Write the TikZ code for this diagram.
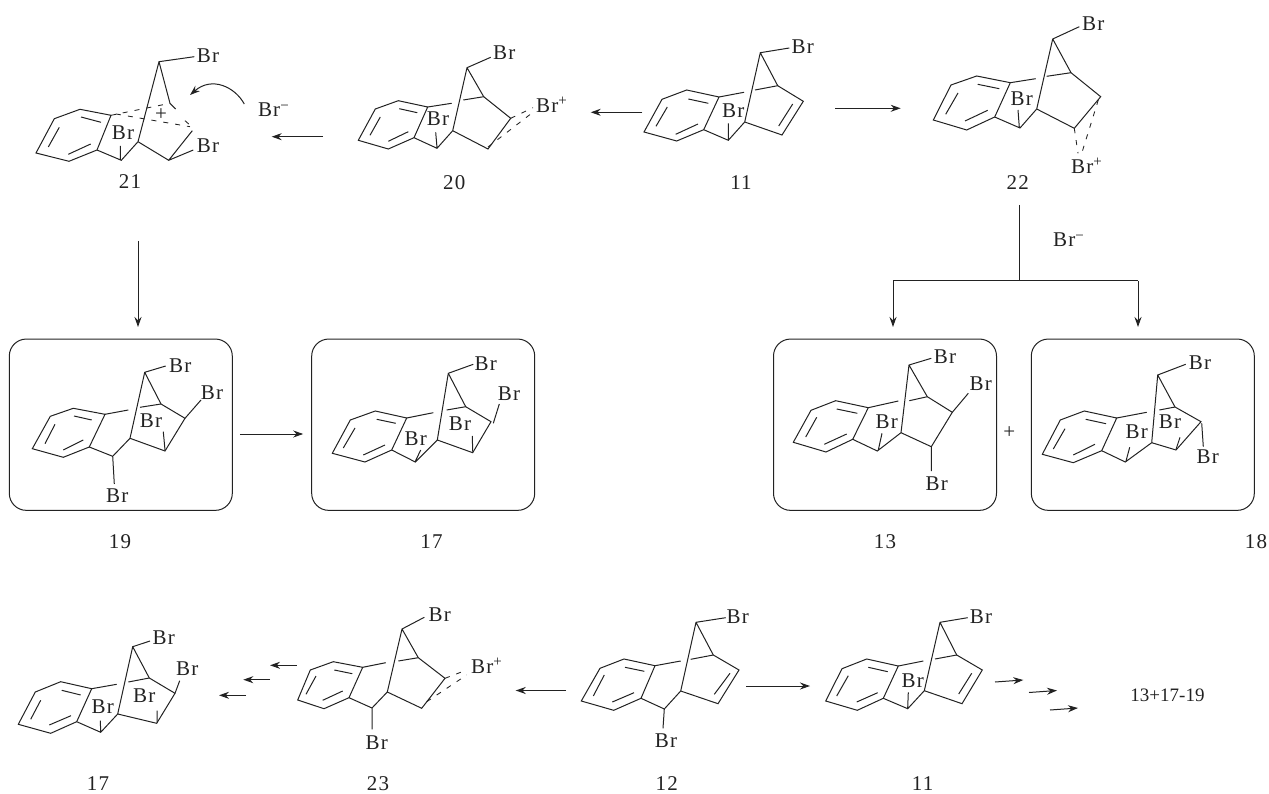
\documentclass[tikz,border=0pt]{standalone}
\usepackage{fontspec}
\setmainfont[LetterSpace=6]{Liberation Serif}
\newfontfamily\prodfont{Liberation Serif}
\usetikzlibrary{arrows.meta}
\definecolor{ink}{HTML}{222222}
\tikzset{
 bond/.style={draw=ink,line width=1pt,line join=miter},
 dbond/.style={draw=ink,line width=0.85pt,dash pattern=on 5pt off 7pt},
 rxn/.style={draw=ink,line width=1pt,-{Stealth[length=10pt,width=7pt]}},
 plainline/.style={draw=ink,line width=1pt},
 txt/.style={inner sep=0pt,outer sep=0pt,text=ink,anchor=base,font=\fontsize{21}{24}\selectfont,yshift=-7pt},
 txw/.style={inner sep=0pt,outer sep=0pt,text=ink,anchor=base west,font=\fontsize{21}{24}\selectfont,yshift=-7pt},
 boxed/.style={draw=ink,line width=1pt,rounded corners=17pt,minimum width=223pt,minimum height=171.3pt,inner sep=0pt}
}
\newcommand{\supp}{\raisebox{7pt}{\fontsize{15}{15}\selectfont +}}
\newcommand{\supm}{\raisebox{6pt}{\fontsize{15}{15}\selectfont −}}
\begin{document}
\begin{tikzpicture}[x=1pt,y=-1pt]
\path[use as bounding box] (0,0) rectangle (1269,794);
% ---- 21
\draw[bond] (36,153)--(54.3,118.7)--(80,109.3)--(111,115.3)--(97,150)--(69,161.3)--cycle;
\draw[bond] (48.3,147)--(59.3,127.3) (81,117)--(101,122.3) (68.3,154.3)--(90.7,144);
\draw[bond] (97,150)--(121.3,160.3)--(138,141.7) (120.3,159.3)--(120.3,146);
\draw[bond] (138,141.7)--(159,61.7)--(194.3,56.7) (159,61.7)--(170,103.3)--(175.7,109);
\draw[bond] (138,141.7)--(168.7,160.3)--(192.3,130.7) (168.7,160.3)--(193.3,150);
\draw[dbond] (111,115.3)--(170,103.3) (116,114)--(190,126.7) (185,120.7)--(191,126);
\node[txt] (b21a) at (208,56) {Br};
\node[txt] (b21b) at (123,133) {Br};
\node[txt] (b21c) at (208,146) {Br};
\node[txt] (plus21) at (161,114) {+};
\node[txt] (n21) at (130,182) {21};
\node[txw] (brm1) at (258,110) {Br\supm};
\coordinate (c1a) at (244.3,104); \coordinate (c1b) at (190,95);
\draw[rxn] (c1a) .. controls (235,87) and (212,76) .. (c1b);
% ---- 20
\draw[bond] (358.3,140.3)--(375.3,109)--(398.3,100.7)--(427.7,107)--(414,137.7)--(388.3,149)--cycle;
\draw[bond] (370,135.3)--(380.3,117) (399.3,108.7)--(417.3,112.7) (388.3,141.3)--(408.3,131.7);
\draw[bond] (414,137.7)--(437,148.3)--(452.7,130.7) (437,147.7)--(435.7,132.3);
\draw[bond] (427.7,107)--(451.7,103.3) (463.3,100)--(483.7,96.7);
\draw[bond] (452.7,130.7)--(467,67.7)--(490.7,57.3) (467,67.7)--(483.7,96.7)--(510.7,118.3)--(488,149)--(452.7,130.7);
\draw[dbond] (510.7,118.3)--(533,107.7) (488,147)--(532,113);
\node[txt] (b20a) at (504.3,52.7) {Br};
\node[txw] (b20b) at (536,106) {Br\supp};
\node[txt] (b20c) at (438,119) {Br};
\node[txt] (n20) at (454.3,182.3) {20};
% ---- 11 top
\draw[bond] (644,132)--(662,99.3)--(686.7,90)--(719,97)--(703.7,129.7)--(676.7,141)--cycle;
\draw[bond] (656,126.3)--(667.3,107) (688.3,99)--(708.3,103.3) (675.7,134.3)--(698,124);
\draw[bond] (703.7,129.7)--(728.3,140.3)--(744.7,122) (728.3,139.3)--(728.3,123.3);
\draw[bond] (719,97)--(744,92.3) (755,90)--(777.7,85.7);
\draw[bond] (744.7,122)--(760.3,52.7)--(789.3,48) (760.3,52.7)--(777.7,85.7)--(803.3,101.3)--(782,135)--(744.7,122) (778.7,126)--(792.7,104);
\node[txt] (b11a) at (802.7,47) {Br};
\node[txt] (b11b) at (733.3,111) {Br};
\node[txt] (n11) at (741,182.3) {11};
% ---- 22
\draw[bond] (933.3,120)--(951,85)--(976.7,76)--(1010.3,82.7)--(994.7,117)--(966.7,130)--cycle;
\draw[bond] (945.7,114.3)--(958,93) (977.7,84.3)--(999.3,88.7) (965,121)--(987.7,110.3);
\draw[bond] (994.7,117)--(1020,128)--(1036.7,109) (1019.3,127.3)--(1018,110);
\draw[bond] (1010.3,82.7)--(1035.7,78.7) (1046.7,76.3)--(1071,72.7);
\draw[bond] (1036.7,109)--(1052.7,39)--(1079.3,26.7) (1052.7,39)--(1071,72.7)--(1100.7,96.7)--(1074.3,128.3)--(1036.7,109);
\draw[dbond] (1074.3,128.3)--(1078,153.3) (1098.3,100)--(1081.7,153.3);
\node[txt] (b22a) at (1093.3,23.3) {Br};
\node[txt] (b22b) at (1021.7,98.7) {Br};
\node[txw] (b22c) at (1071,166.7) {Br\supp};
\node[txt] (n22) at (1017.7,182.3) {22};
% ---- top arrows
\coordinate (a1) at (323,136.7); \coordinate (a2) at (271.7,136.7);
\draw[rxn] (a1)--(a2);
\coordinate (a3) at (642.3,112.3); \coordinate (a4) at (590.7,112.3);
\draw[rxn] (a3)--(a4);
\coordinate (a5) at (835,108.3); \coordinate (a6) at (900.7,108.3);
\draw[rxn] (a5)--(a6);
\coordinate (a7) at (138,241); \coordinate (a8) at (138,327);
\draw[rxn] (a7)--(a8);
% ---- branch
\coordinate (t0) at (1019,205); \coordinate (t1) at (1019,281);
\coordinate (t2) at (893,281); \coordinate (t3) at (1138,281);
\coordinate (t4) at (893,327); \coordinate (t5) at (1138,327);
\draw[plainline] (t0)--(t1) (t2)--(t3);
\draw[rxn] (t2)--(t4);
\draw[rxn] (t3)--(t5);
\node[txw] (brm2) at (1053,240) {Br\supm};
% ---- boxes
\node[boxed] (box19) at (120.8,424.7) {};
\node[boxed] (box17) at (423.2,424.7) {};
\node[boxed] (box13) at (885,424.7) {};
\node[boxed] (box18) at (1142.8,424.7) {};
\draw[rxn,shorten <=7pt,shorten >=8pt] (box19.east |- 0,434)--(box17.west |- 0,434);
% ---- 19
\draw[bond] (32.3,448.7)--(50.3,416.3)--(73.3,408.3)--(105,414.3)--(89.3,447)--(63.3,457.3)--cycle;
\draw[bond] (45,443.7)--(55,424.3) (74,416)--(91.7,420) (63.3,450)--(83.3,440);
\draw[bond] (89.3,447)--(112.7,456.3)--(130,438.3) (112.7,456.3)--(114.3,484);
\draw[bond] (105,414.3)--(128.3,410) (140,407.3)--(161,404);
\draw[bond] (130,438.3)--(144.7,372.3)--(165.7,366) (144.7,372.3)--(161,404)--(185,418.3)--(165,451)--(130,438.3);
\draw[bond] (165,450)--(163.3,431.7) (185,418.3)--(201,400);
\node[txt] (b19a) at (180.3,365) {Br};
\node[txt] (b19b) at (212,392.7) {Br};
\node[txt] (b19c) at (151,420) {Br};
\node[txt] (b19d) at (117.3,495) {Br};
\node[txt] (n19) at (120,541) {19};
% ---- 17 boxed
\draw[bond] (332.3,453.3)--(350.3,420)--(375.3,411)--(406.7,418)--(391.7,450)--(365,462)--cycle;
\draw[bond] (343.3,448)--(355,428) (376.7,419.3)--(395.7,423.3) (363.3,455)--(385,445);
\draw[bond] (391.7,450)--(415.3,462)--(437.3,440) (415.3,461.3)--(420.7,450);
\draw[bond] (406.7,418)--(433.3,412.7) (446.7,410)--(465.7,406.7);
\draw[bond] (437.3,440)--(448.3,373.3)--(473.3,364.3) (448.3,373.3)--(465.7,406.7)--(491,421.7)--(472.7,452.7)--(437.3,440);
\draw[bond] (472.7,451.7)--(472.3,436) (493.3,423.3)--(499.3,404);
\node[txt] (b17a) at (485.7,363.3) {Br};
\node[txt] (b17b) at (509,393.3) {Br};
\node[txt] (b17c) at (460,423.3) {Br};
\node[txt] (b17d) at (415.7,438.3) {Br};
\node[txt] (n17) at (431.5,541) {17};
% ---- 13
\draw[bond] (793.3,442.3)--(811,410.3)--(835.7,400.7)--(868.3,407.7)--(852.7,439.3)--(826,452)--cycle;
\draw[bond] (805.7,437)--(816.7,417.3) (836.7,409)--(857.3,413.3) (824.3,444.3)--(846.7,434);
\draw[bond] (852.7,439.3)--(877.3,451)--(901,432.7) (878.3,450)--(882,433.3);
\draw[bond] (868.3,407.7)--(898.3,401) (909.3,400.7)--(927.3,396.7);
\draw[bond] (901,432.7)--(909,365)--(931.3,358.3) (909,365)--(927.3,396.7)--(952.3,412.3)--(931.3,446.7)--(901,432.7);
\draw[bond] (931.3,446.7)--(931.3,471) (952.3,412.3)--(968.3,393.3);
\node[txt] (b13a) at (945,356) {Br};
\node[txt] (b13b) at (980.7,383.3) {Br};
\node[txt] (b13c) at (886.7,421) {Br};
\node[txt] (b13d) at (936.7,483.3) {Br};
\node[txt] (plus13) at (1009.3,431.7) {+};
\node[txt] (n13) at (885,541) {13};
% ---- 18
\draw[bond] (1042.3,454.3)--(1060.3,420)--(1084.3,411)--(1116.7,418)--(1101.7,450.7)--(1073.3,462.7)--cycle;
\draw[bond] (1053.3,449)--(1065,428.7) (1085.7,419.3)--(1106,423.7) (1073.3,455)--(1095,444.3);
\draw[bond] (1101.7,450.7)--(1125.3,462)--(1151.7,442.7) (1126,461)--(1129.7,447.3);
\draw[bond] (1116.7,418)--(1146.7,412.3) (1159.3,410)--(1175,407);
\draw[bond] (1151.7,442.7)--(1157.7,375)--(1185.7,364.3) (1157.7,375)--(1175,407)--(1201,421.7)--(1176,450)--(1151.7,442.7);
\draw[bond] (1176,449.3)--(1180,437.3) (1201.7,423.3)--(1203.3,446.7);
\node[txt] (b18a) at (1200,362.3) {Br};
\node[txt] (b18b) at (1170,421) {Br};
\node[txt] (b18c) at (1136.7,431.7) {Br};
\node[txt] (b18d) at (1207.7,456) {Br};
\node[txt] (n18) at (1256,541) {18};
% ---- 17 bottom
\draw[bond] (18.3,724.3)--(35.3,692)--(60.7,681.7)--(91.7,688.7)--(76.7,721.7)--(50.7,733.3)--cycle;
\draw[bond] (30.7,719.3)--(40.7,700.3) (61.7,690.3)--(80.7,695) (49.3,725)--(71,715.7);
\draw[bond] (76.7,721.7)--(100.7,732.3)--(117.7,714) (100.7,731.7)--(100.3,720.7);
\draw[bond] (91.7,688.7)--(116.7,684.3) (128.3,682)--(149.3,678);
\draw[bond] (117.7,714)--(132.7,646.7)--(150,641) (132.7,646.7)--(149.3,678)--(175,693.3)--(156.7,723.3)--(117.7,714);
\draw[bond] (157,722.7)--(157,710.7) (175,693.3)--(179.7,680.7);
\node[txt] (b17e) at (163.7,637) {Br};
\node[txt] (b17f) at (187.3,668.3) {Br};
\node[txt] (b17g) at (144.3,695) {Br};
\node[txt] (b17h) at (102.7,706) {Br};
\node[txt] (n17b) at (98,783.5) {17};
% ---- 23
\draw[bond] (297.7,700)--(310.3,670)--(333.3,661.7)--(362.7,667.3)--(349,697.7)--(324,708.7)--cycle;
\draw[bond] (306,694.3)--(316,676) (334.3,670)--(352.3,673.7) (322.7,700.3)--(342.7,691);
\draw[bond] (349,697.7)--(372,708)--(387.3,692) (372,708)--(372,729.3);
\draw[bond] (362.7,667.3)--(385.7,662.7) (398.3,661)--(418.3,657.7);
\draw[bond] (387.3,692)--(402,629)--(424.3,617.3) (402,629)--(418.3,657.7)--(445,678.3)--(421.7,708.3)--(387.3,692);
\draw[dbond] (445,678.3)--(466.7,670) (426.7,701.7)--(466.7,675);
\node[txt] (b23a) at (439.7,614.3) {Br};
\node[txw] (b23b) at (471,666) {Br\supp};
\node[txt] (b23c) at (376.7,742.3) {Br};
\node[txt] (n23) at (378,783.5) {23};
% ---- 12
\draw[bond] (581.3,701)--(600,668.3)--(624,659)--(655,665.7)--(641,698.3)--(613.7,710.3)--cycle;
\draw[bond] (593.3,696)--(604.3,675) (625,667.3)--(644.3,671.3) (612.3,702)--(634,692.7);
\draw[bond] (641,698.3)--(664.3,709)--(680.7,691) (664.3,709)--(663,728.3);
\draw[bond] (655,665.7)--(680.7,661) (690.7,659.3)--(713.3,655);
\draw[bond] (680.7,691)--(696,622.3)--(725.7,617.7) (696,622.3)--(713.3,655)--(739,670)--(718,703.7)--(680.7,691) (714.3,694.3)--(730,673.3);
\node[txt] (b12a) at (737.7,616) {Br};
\node[txt] (b12b) at (666,740) {Br};
\node[txt] (n12) at (666.7,783.5) {12};
% ---- 11 bottom
\draw[bond] (825.7,701)--(842,668.7)--(866.7,659)--(898.3,666)--(883.3,698.3)--(857.3,710.3)--cycle;
\draw[bond] (836.7,696)--(848.3,675.7) (868.3,667.3)--(887.7,671.7) (856.7,702)--(877.7,692.7);
\draw[bond] (883.3,698.3)--(907.7,708.7)--(924.3,690.7) (907.7,707.7)--(908.3,692.3);
\draw[bond] (898.3,666)--(923.3,661) (935,659)--(956.7,655);
\draw[bond] (924.3,690.7)--(940,622.3)--(967.7,617.7) (940,622.3)--(956.7,655)--(982.3,670)--(962,703.7)--(924.3,690.7) (958.7,694)--(971.7,673.3);
\node[txt] (b11c) at (981,616) {Br};
\node[txt] (b11d) at (912.7,680) {Br};
\node[txt] (n11b) at (922.7,783.5) {11};
\node[txt,font=\prodfont\fontsize{19}{24}\selectfont] (prod) at (1167.5,694) {13+17-19};
% ---- bottom arrows
\coordinate (d1) at (246,695.3); \coordinate (d2) at (219,695.3);
\coordinate (d3) at (270,679.7); \coordinate (d4) at (243.3,679.7);
\coordinate (d5) at (296.7,665.3); \coordinate (d6) at (270,665.3);
\coordinate (d7) at (566,690.5); \coordinate (d8) at (515.7,690.5);
\coordinate (d9) at (746,686); \coordinate (d10) at (810,686);
\coordinate (d11) at (995,682); \coordinate (d12) at (1023.3,680);
\coordinate (d13) at (1029,692.5); \coordinate (d14) at (1057,690.5);
\coordinate (d15) at (1050,710); \coordinate (d16) at (1078,708);
\foreach \p/\q in {d1/d2,d3/d4,d5/d6,d7/d8,d9/d10,d11/d12,d13/d14,d15/d16}{\draw[rxn] (\p)--(\q);}
\end{tikzpicture}
\end{document}
